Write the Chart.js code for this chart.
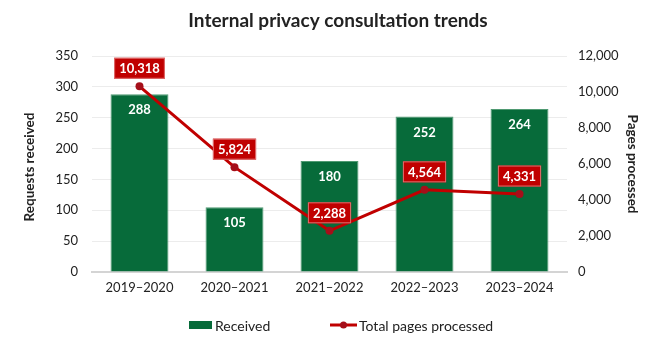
<!DOCTYPE html>
<html>
<head>
<meta charset="utf-8">
<script src="https://cdn.jsdelivr.net/npm/chart.js@4.4.1/dist/chart.umd.min.js"></script>
<style>
  html, body { margin: 0; padding: 0; background: #fff; }
  #wrap { width: 659px; height: 344px; }
</style>
</head>
<body>
<div id="wrap"><canvas id="trendChart" width="659" height="344"></canvas></div>
<script>
const years = ["2019–2020", "2020–2021", "2021–2022", "2022–2023", "2023–2024"];
const received = [288, 105, 180, 252, 264];
const pagesProcessed = [10318, 5824, 2288, 4564, 4331];
const leftTicks = [0, 50, 100, 150, 200, 250, 300, 350];
const rightTicks = [0, 2000, 4000, 6000, 8000, 10000, 12000];

const FONT = "Lato, 'Open Sans', sans-serif";
const GREEN = "#076B3A";
const RED = "#C00000";
const DARK_RED = "#A50F1A";
const TEXT = "#222";

function fmt(n) {
    return n.toLocaleString("en-US");
}

const extrasPlugin = {
    id: "extras",
    afterDatasetsDraw(chart) {
        const ctx = chart.ctx;
        ctx.save();
        ctx.textAlign = "center";
        ctx.textBaseline = "middle";

        // bar value labels
        ctx.font = "bold 13px " + FONT;
        ctx.fillStyle = "#fff";
        chart.getDatasetMeta(0).data.forEach((bar, i) => {
            ctx.fillText(received[i], bar.x, bar.y + 16);
        });

        // line value boxes
        chart.getDatasetMeta(1).data.forEach((pt, i) => {
            const txt = fmt(pagesProcessed[i]);
            const w = ctx.measureText(txt).width + 10;
            const h = 21;
            const cy = pt.y - 18;
            ctx.fillStyle = RED;
            ctx.fillRect(pt.x - w / 2, cy - h / 2, w, h);
            ctx.strokeStyle = "#e07070";
            ctx.lineWidth = 1;
            ctx.strokeRect(pt.x - w / 2 + 0.5, cy - h / 2 + 0.5, w - 1, h - 1);
            ctx.fillStyle = "#fff";
            ctx.fillText(txt, pt.x, cy + 1);
        });
        ctx.restore();
    },
    afterDraw(chart) {
        const ctx = chart.ctx;
        const area = chart.chartArea;
        ctx.save();
        ctx.textBaseline = "middle";
        ctx.textAlign = "center";
        ctx.fillStyle = TEXT;

        // title
        ctx.font = "bold 19px " + FONT;
        ctx.fillText("Internal privacy consultation trends", 338, 21);

        // axis titles
        const midY = (area.top + area.bottom) / 2;
        ctx.font = "bold 13.5px " + FONT;
        ctx.save();
        ctx.translate(30, midY + 3);
        ctx.rotate(-Math.PI / 2);
        ctx.fillText("Requests received", 0, 0);
        ctx.restore();
        ctx.save();
        ctx.translate(632, midY);
        ctx.rotate(Math.PI / 2);
        ctx.fillText("Pages processed", 0, 0);
        ctx.restore();

        // legend
        const ly = 325;
        ctx.font = "14px " + FONT;
        ctx.textAlign = "left";
        ctx.fillStyle = GREEN;
        ctx.fillRect(189, ly - 4, 23, 8);
        ctx.fillStyle = TEXT;
        ctx.fillText("Received", 215, ly + 1);
        ctx.strokeStyle = RED;
        ctx.lineWidth = 3;
        ctx.beginPath();
        ctx.moveTo(330, ly);
        ctx.lineTo(357, ly);
        ctx.stroke();
        ctx.fillStyle = DARK_RED;
        ctx.beginPath();
        ctx.arc(343.5, ly, 3.5, 0, Math.PI * 2);
        ctx.fill();
        ctx.fillStyle = TEXT;
        ctx.fillText("Total pages processed", 359, ly + 1);
        ctx.restore();
    }
};

function renderChart() {
    const ctx = document.getElementById("trendChart").getContext("2d");
    new Chart(ctx, {
        data: {
            labels: years,
            datasets: [
                {
                    type: "bar",
                    label: "Received",
                    data: received,
                    yAxisID: "y",
                    backgroundColor: GREEN,
                    borderColor: "#4f9a72",
                    borderWidth: 1,
                    categoryPercentage: 1,
                    barPercentage: 0.61,
                    order: 2
                },
                {
                    type: "line",
                    label: "Total pages processed",
                    data: pagesProcessed,
                    yAxisID: "y1",
                    borderColor: RED,
                    borderWidth: 3,
                    pointRadius: 4,
                    pointBackgroundColor: DARK_RED,
                    pointBorderColor: DARK_RED,
                    pointBorderWidth: 0,
                    tension: 0,
                    order: 1
                }
            ]
        },
        options: {
            responsive: false,
            animation: false,
            layout: { padding: { top: 56, left: 0, right: 0, bottom: 0 } },
            plugins: {
                legend: { display: false },
                title: { display: false },
                tooltip: { enabled: false }
            },
            scales: {
                x: {
                    grid: { display: false, drawTicks: false },
                    border: { color: "#d4d4d4", width: 2 },
                    ticks: { color: TEXT, font: { family: FONT, size: 13 }, padding: 8, maxRotation: 0 },
                    afterFit: s => { s.height = 72; }
                },
                y: {
                    position: "left",
                    min: 0,
                    max: 350,
                    afterBuildTicks: s => { s.ticks = leftTicks.map(v => ({ value: v })); },
                    grid: { color: "#ececec", drawTicks: false },
                    border: { display: false },
                    ticks: { color: TEXT, font: { family: FONT, size: 13 }, padding: 14 },
                    afterFit: s => { s.width = 92; }
                },
                y1: {
                    position: "right",
                    min: 0,
                    max: 12000,
                    afterBuildTicks: s => { s.ticks = rightTicks.map(v => ({ value: v })); },
                    grid: { display: false, drawTicks: false },
                    border: { display: false },
                    ticks: { color: TEXT, font: { family: FONT, size: 13 }, padding: 11, callback: v => fmt(v) },
                    afterFit: s => { s.width = 92; }
                }
            }
        },
        plugins: [extrasPlugin]
    });
}

document.addEventListener("DOMContentLoaded", renderChart);
</script>
</body>
</html>
